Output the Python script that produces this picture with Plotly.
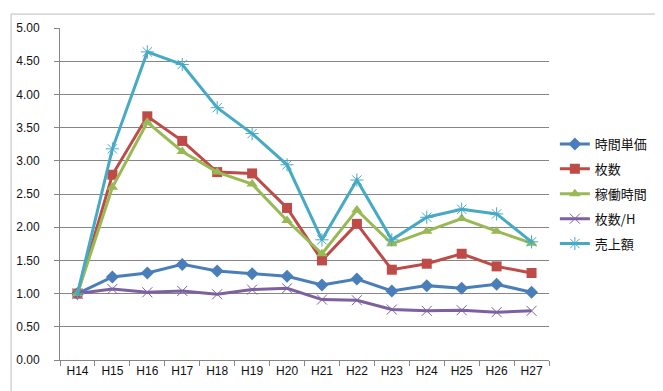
import plotly.graph_objects as go

categories = ["H14", "H15", "H16", "H17", "H18", "H19", "H20", "H21", "H22", "H23", "H24", "H25", "H26", "H27"]
hourly_price = [1.00, 1.25, 1.31, 1.44, 1.34, 1.30, 1.26, 1.13, 1.22, 1.04, 1.12, 1.08, 1.14, 1.02]
sheets = [1.00, 2.79, 3.67, 3.30, 2.83, 2.81, 2.29, 1.50, 2.05, 1.36, 1.45, 1.60, 1.41, 1.31]
work_hours = [1.00, 2.60, 3.58, 3.14, 2.83, 2.65, 2.10, 1.60, 2.26, 1.75, 1.94, 2.13, 1.94, 1.76]
sheets_per_h = [1.00, 1.07, 1.02, 1.04, 0.99, 1.06, 1.08, 0.91, 0.90, 0.76, 0.74, 0.75, 0.72, 0.74]
sales = [1.00, 3.18, 4.64, 4.45, 3.80, 3.41, 2.94, 1.81, 2.71, 1.81, 2.15, 2.27, 2.20, 1.78]

series = [
    ("時間単価", hourly_price, "#4A7EBB", "diamond", 10, 0),
    ("枚数", sheets, "#BE4B48", "square", 10, 0),
    ("稼働時間", work_hours, "#98B954", "triangle-up", 10, 0),
    ("枚数/H", sheets_per_h, "#7D60A0", "x-thin-open", 10, 1),
    ("売上額", sales, "#46AAC5", "asterisk-open", 11, 1),
]

fig = go.Figure()
for i, (name, vals, color, sym, size, lw) in enumerate(series):
    marker = dict(symbol=sym, size=size, color=color)
    if lw:
        marker["line"] = dict(color=color, width=1)
    fig.add_trace(go.Scatter(
        x=categories, y=vals, name=name, mode="lines+markers",
        line=dict(color=color, width=3), marker=marker,
        legendgroup=f"g{i}",
    ))

fig.update_layout(
    width=663, height=391,
    margin=dict(l=52, r=122, t=20, b=39),
    paper_bgcolor="white", plot_bgcolor="white",
    font=dict(family="Noto Sans CJK JP, Liberation Sans, sans-serif", size=12, color="#222"),
    legend=dict(x=1.012, y=0.5, xanchor="left", yanchor="middle",
                font=dict(size=13, color="#111"), tracegroupgap=5,
                traceorder="grouped", itemwidth=30, bgcolor="rgba(0,0,0,0)"),
    shapes=[dict(type="rect", xref="paper", yref="paper", x0=-0.1, x1=1.233, y0=-0.0994, y1=1.042,
                 line=dict(color="#bcbcbc", width=1))],
)
fig.update_xaxes(type="category", range=[-0.5, 13.5], showgrid=False, automargin=False,
                 showline=True, linecolor="#868686", linewidth=1,
                 ticks="outside", tickson="boundaries", ticklen=5, tickcolor="#868686",
                 ticklabelstandoff=0,
                 tickfont=dict(family="Liberation Sans, sans-serif", size=12, color="#111"))
fig.update_yaxes(range=[0, 5], dtick=0.5, tickformat=".2f", showgrid=True, automargin=False,
                 gridcolor="#868686", gridwidth=1, showline=True, linecolor="#868686",
                 ticks="outside", ticklen=5, tickcolor="#868686", zeroline=False,
                 ticklabelstandoff=12,
                 tickfont=dict(family="Liberation Sans, sans-serif", size=12, color="#111"))

fig.write_html("out.html")
